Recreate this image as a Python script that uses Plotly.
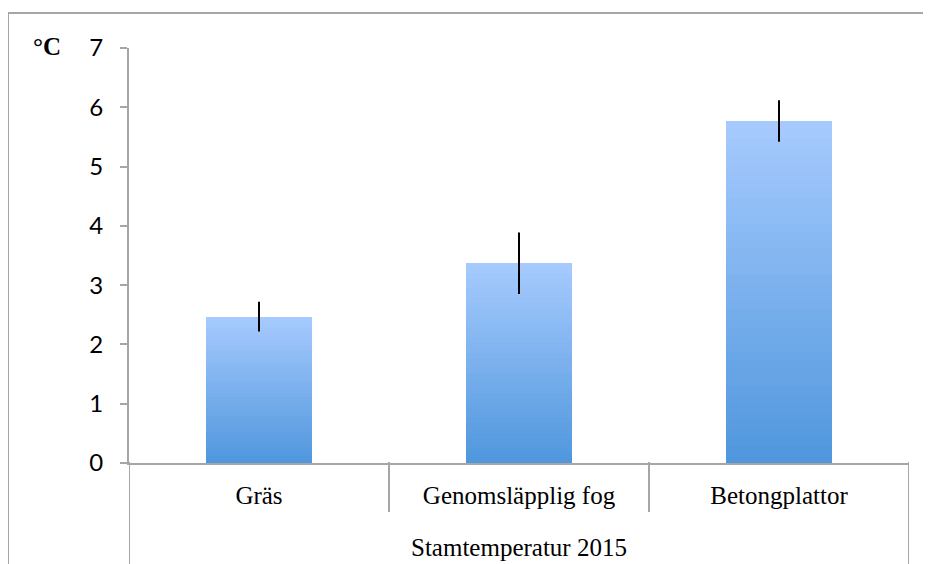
import plotly.graph_objects as go

# data
categories = ["Gräs", "Genomsläpplig fog", "Betongplattor"]
group_label = "Stamtemperatur 2015"
temps = [2.47, 3.37, 5.77]
temp_err = [0.25, 0.52, 0.35]
y_ticks = [0, 1, 2, 3, 4, 5, 6, 7]

TOP = (166, 202, 254)
BOTTOM = (80, 151, 221)
N_STEPS = 40
GRAY = "#a6a6a6"

# the page puts the plot 8px in from the corner, so everything is shifted back
OFF = 8
W, H = 931, 564
ML, MT = 129 - OFF, 48 - OFF
pw, ph = 780, 415
MR, MB = W - ML - pw, H - MT - ph


def px_x(p):
    return (p - OFF - ML) / pw


def px_y(p):
    return 1 - (p - OFF - MT) / ph


fig = go.Figure()
x_idx = list(range(len(categories)))

# vertical gradient per bar: stack thin slices of equal height
for i in range(N_STEPS):
    t = i / (N_STEPS - 1)
    col = "rgb(%d,%d,%d)" % tuple(round(b + (a - b) * t) for a, b in zip(TOP, BOTTOM))
    fig.add_trace(go.Bar(
        x=x_idx, y=[v / N_STEPS for v in temps],
        marker=dict(color=col, line=dict(width=0)),
        width=0.405, showlegend=False, hoverinfo="skip",
    ))

# error bars only (invisible marker)
fig.add_trace(go.Scatter(
    x=x_idx, y=temps, mode="markers",
    marker=dict(size=1, color="rgba(0,0,0,0)"),
    error_y=dict(type="data", array=temp_err, color="black", thickness=2, width=0),
    showlegend=False,
))

fig.update_layout(
    width=W, height=H, barmode="stack",
    margin=dict(l=ML, r=MR, t=MT, b=MB),
    plot_bgcolor="white", paper_bgcolor="white",
    font=dict(family="Liberation Serif", size=25, color="black"),
)
fig.update_xaxes(
    range=[-0.5, 2.5], tickvals=x_idx, ticktext=categories,
    showgrid=False, zeroline=False, showline=True, linecolor=GRAY, linewidth=2,
    ticks="", ticklabelstandoff=9,
    tickfont=dict(family="Liberation Serif", size=25),
)
fig.update_yaxes(
    range=[0, 7], tickvals=y_ticks, showgrid=False, zeroline=False,
    showline=True, linecolor=GRAY, linewidth=2,
    ticks="outside", ticklen=7, tickcolor=GRAY, tickwidth=2,
    ticklabelstandoff=12, tickfont=dict(family="Lato", size=24),
)

# category dividers below the x axis
for xb, y_end in [(-0.5, H + 20), (0.5, 512), (1.5, 512), (2.5, H + 20)]:
    fig.add_shape(type="line", xref="x", yref="paper", x0=xb, x1=xb,
                  y0=px_y(462), y1=px_y(y_end), line=dict(color=GRAY, width=2))

# outer frame (top and left)
fig.add_shape(type="line", xref="paper", yref="paper", x0=px_x(8), x1=px_x(W + 20),
              y0=px_y(13), y1=px_y(13), line=dict(color=GRAY, width=2))
fig.add_shape(type="line", xref="paper", yref="paper", x0=px_x(8), x1=px_x(8),
              y0=px_y(13), y1=px_y(H + 20), line=dict(color=GRAY, width=2))

fig.add_annotation(x=1, xref="x", y=px_y(547), yref="paper", yanchor="middle",
                   text=group_label, showarrow=False,
                   font=dict(family="Liberation Serif", size=25))
fig.add_annotation(x=px_x(47), xref="paper", y=px_y(46), yref="paper",
                   xanchor="center", yanchor="middle", text="<b>°C</b>",
                   showarrow=False, font=dict(family="Liberation Serif", size=25))

fig.write_html("out.html")
